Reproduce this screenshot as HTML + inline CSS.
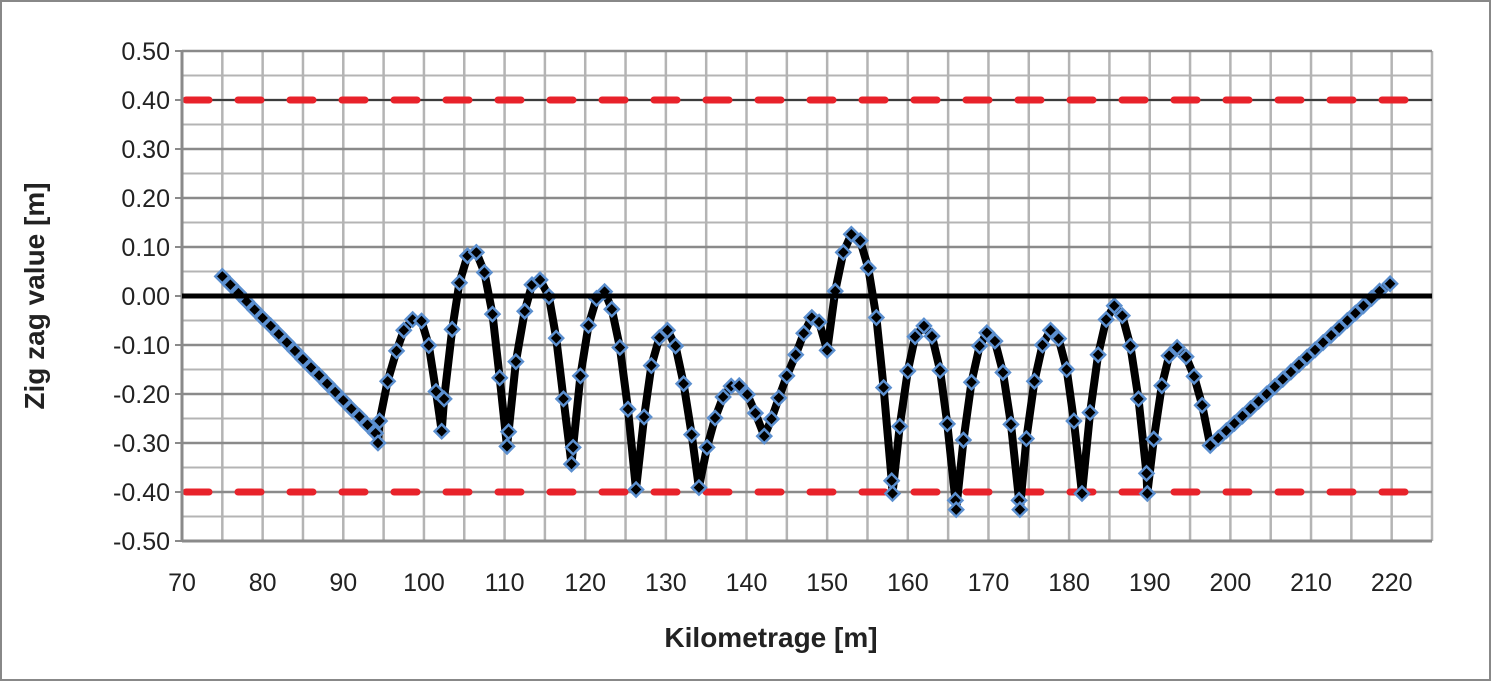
<!DOCTYPE html>
<html><head><meta charset="utf-8"><style>
html,body{margin:0;padding:0;background:#fff;}
svg{display:block;font-family:"Liberation Sans",sans-serif;}
</style></head><body>
<svg id="chart" width="1491" height="681" viewBox="0 0 1491 681">
<rect x="1" y="1" width="1489" height="679" fill="#fff" stroke="#888" stroke-width="2"/>
<g id="grid"></g>
<g id="limits"></g>
<g id="series"></g>
<g id="axes"></g>
<text x="44" y="296" transform="rotate(-90 44 296)" text-anchor="middle" font-size="28" font-weight="bold" fill="#222">Zig zag value [m]</text>
<text x="771" y="647" text-anchor="middle" font-size="28" font-weight="bold" fill="#222">Kilometrage [m]</text>
</svg>
<script>
const xTicks=[70,80,90,100,110,120,130,140,150,160,170,180,190,200,210,220];
const yTicks=[0.5,0.4,0.3,0.2,0.1,0,-0.1,-0.2,-0.3,-0.4,-0.5];
const limitValues=[0.4,-0.4];
const kms=[75,76,77,78,79,80,81,82,83,84,85,86,87,88,89,90,91,92,93,94,94.3,94.5,95.5,96.6,97.5,98.6,99.7,100.6,101.5,102.2,102.5,103.5,104.4,105.4,106.5,107.5,108.5,109.4,110.3,110.5,111.4,112.5,113.4,114.4,115.5,116.4,117.3,118.3,118.5,119.4,120.4,121.4,122.4,123.3,124.3,125.3,126.3,127.3,128.2,129.2,130.2,131.2,132.2,133.2,134.1,135.1,136.1,137.1,138.1,139.1,140.1,141.1,142.2,143.1,144.0,145.0,146.1,147.1,148.1,149.0,150.0,151.0,152.0,153.0,154.1,155.1,156.1,157.0,158.0,158.1,159.0,160.0,160.9,162.0,163.0,164.0,164.9,165.9,166.0,166.9,167.9,168.9,169.8,170.8,171.8,172.8,173.8,173.9,174.7,175.7,176.7,177.7,178.7,179.7,180.6,181.6,182.6,183.6,184.6,185.6,186.6,187.6,188.6,189.6,189.7,190.5,191.5,192.4,193.4,194.5,195.5,196.5,197.5,198.5,199.5,200.5,201.5,202.5,203.5,204.5,205.5,206.5,207.5,208.5,209.5,210.5,211.5,212.5,213.5,214.5,215.5,216.5,217.5,218.5,219.8];
const zigzag=[0.04,0.023,0.006,-0.011,-0.028,-0.045,-0.061,-0.078,-0.095,-0.112,-0.129,-0.146,-0.162,-0.179,-0.196,-0.213,-0.23,-0.246,-0.263,-0.28,-0.3,-0.255,-0.174,-0.112,-0.07,-0.048,-0.051,-0.101,-0.195,-0.276,-0.21,-0.068,0.027,0.082,0.089,0.048,-0.037,-0.167,-0.307,-0.277,-0.134,-0.031,0.023,0.033,-0.001,-0.086,-0.21,-0.343,-0.309,-0.163,-0.06,-0.005,0.009,-0.027,-0.105,-0.231,-0.395,-0.247,-0.142,-0.085,-0.07,-0.102,-0.179,-0.283,-0.391,-0.309,-0.249,-0.206,-0.184,-0.183,-0.201,-0.239,-0.286,-0.251,-0.208,-0.163,-0.12,-0.076,-0.044,-0.053,-0.111,0.01,0.089,0.126,0.113,0.057,-0.044,-0.187,-0.377,-0.403,-0.266,-0.153,-0.083,-0.061,-0.082,-0.152,-0.261,-0.417,-0.436,-0.294,-0.176,-0.102,-0.075,-0.092,-0.156,-0.262,-0.417,-0.436,-0.291,-0.174,-0.1,-0.07,-0.087,-0.15,-0.255,-0.403,-0.238,-0.12,-0.048,-0.02,-0.04,-0.102,-0.21,-0.362,-0.403,-0.292,-0.183,-0.122,-0.105,-0.124,-0.164,-0.223,-0.305,-0.29,-0.275,-0.26,-0.245,-0.23,-0.215,-0.2,-0.185,-0.17,-0.155,-0.14,-0.125,-0.11,-0.095,-0.08,-0.065,-0.05,-0.035,-0.02,-0.005,0.01,0.025,0.036];

const NS='http://www.w3.org/2000/svg';
const X0=182,X1=1432,Y0=51,Y1=541;
const xMin=70,xMax=225,yMin=-0.5,yMax=0.5;
function xs(v){return X0+(v-xMin)/(xMax-xMin)*(X1-X0);}
function ys(v){return Y1-(v-yMin)/(yMax-yMin)*(Y1-Y0);}
function mk(tag,attrs,parent){const e=document.createElementNS(NS,tag);for(const k in attrs)e.setAttribute(k,attrs[k]);parent.appendChild(e);return e;}
const grid=document.getElementById('grid'),axes=document.getElementById('axes'),lim=document.getElementById('limits'),ser=document.getElementById('series');
for(let v=xMin+5;v<=xMax;v+=5){const l=mk('line',{x1:xs(v),x2:xs(v),y1:Y0,y2:Y1,stroke:'#b4b4b4','stroke-width':2.5},grid);

}
for(let i=0;i<=20;i++){const v=yMin+i*0.05;const major=i%2===0;const l=mk('line',{x1:X0,x2:X1,y1:ys(v),y2:ys(v),stroke:major?'#8a8a8a':'#b4b4b4','stroke-width':major?2.5:2},grid);

}
const lineTop=mk('line',{x1:X0,x2:X1,y1:ys(0.4),y2:ys(0.4),stroke:'#222','stroke-width':1.5},grid);


const ax=mk('line',{x1:X0,x2:X0,y1:Y0,y2:Y1,stroke:'#8a8a8a','stroke-width':3},axes);


const bx=mk('line',{x1:X0,x2:X1,y1:Y1,y2:Y1,stroke:'#8a8a8a','stroke-width':3},axes);


yTicks.forEach(v=>{const tk=mk('line',{x1:X0-7,x2:X0,y1:ys(v),y2:ys(v),stroke:'#8a8a8a','stroke-width':2},axes);


const t=mk('text',{x:170,y:ys(v)+9,'text-anchor':'end','font-size':25,fill:'#222'},axes);t.textContent=v.toFixed(2);

});
xTicks.forEach(v=>{const t=mk('text',{x:xs(v),y:591,'text-anchor':'middle','font-size':25,fill:'#222'},axes);t.textContent=String(v);

});
const z=mk('line',{x1:X0,x2:X1,y1:ys(0),y2:ys(0),stroke:'#000','stroke-width':5},axes);


limitValues.forEach(v=>{const l=mk('line',{x1:X0+4,x2:X1,y1:ys(v),y2:ys(v),stroke:'#e8222a','stroke-width':7,'stroke-dasharray':'23 29','stroke-linecap':'round'},lim);

});
let d='';kms.forEach((k,i)=>{d+=(i?'L':'M')+xs(k).toFixed(1)+' '+ys(zigzag[i]).toFixed(1);});
const p=mk('path',{d:d,fill:'none',stroke:'#000','stroke-width':8,'stroke-linejoin':'round'},ser);


kms.forEach((k,i)=>{const cx=xs(k),cy=ys(zigzag[i]),r=7;
const m=mk('polygon',{points:`${cx},${cy-r} ${cx+r},${cy} ${cx},${cy+r} ${cx-r},${cy}`,fill:'#000',stroke:'#5b8fcf','stroke-width':2.5},ser);

});
</script>
</body></html>
